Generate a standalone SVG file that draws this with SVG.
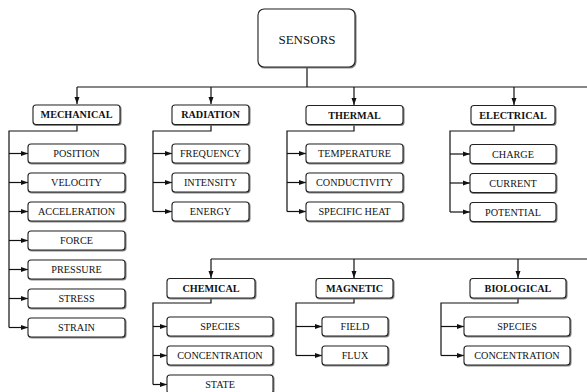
<svg xmlns="http://www.w3.org/2000/svg" width="587" height="392" viewBox="0 0 587 392">
<style>
.b{fill:#fff;stroke:#222;stroke-width:1.1;filter:url(#sh)}
text{font-size:10.2px;fill:#111;text-anchor:middle}
.c{font-weight:bold}
.s{font-size:13px}
.l{fill:none;stroke:#111;stroke-width:1.2}
</style>
<defs>
<filter id="sh" x="-10%" y="-20%" width="120%" height="150%"><feDropShadow dx="0.8" dy="0.8" stdDeviation="0.4" flood-color="#666"/></filter>
<marker id="a" markerUnits="userSpaceOnUse" markerWidth="8" markerHeight="6" refX="7" refY="3" orient="auto"><path d="M0,0.5 L7,3 L0,5.5 z" fill="#111"/></marker>
</defs>
<g id="connectors">
<path class="l" d="M307,67 V87 M77,87 H587 M211,259 H587"/>
<path class="l" d="M77,87 V104" marker-end="url(#a)"/>
<path class="l" d="M211,87 V104" marker-end="url(#a)"/>
<path class="l" d="M354,87 V105" marker-end="url(#a)"/>
<path class="l" d="M514,87 V105" marker-end="url(#a)"/>
<path class="l" d="M211,259 V278" marker-end="url(#a)"/>
<path class="l" d="M354,259 V278" marker-end="url(#a)"/>
<path class="l" d="M518,259 V278" marker-end="url(#a)"/>
<path class="l" d="M77,124 V131 H9 V327.5"/>
<path class="l" d="M9,153.5 H28" marker-end="url(#a)"/>
<path class="l" d="M9,182.5 H28" marker-end="url(#a)"/>
<path class="l" d="M9,211.5 H28" marker-end="url(#a)"/>
<path class="l" d="M9,240.5 H28" marker-end="url(#a)"/>
<path class="l" d="M9,269.5 H28" marker-end="url(#a)"/>
<path class="l" d="M9,298.5 H28" marker-end="url(#a)"/>
<path class="l" d="M9,327.5 H28" marker-end="url(#a)"/>
<path class="l" d="M211,124 V131 H153 V211.5"/>
<path class="l" d="M153,153.5 H172" marker-end="url(#a)"/>
<path class="l" d="M153,182.5 H172" marker-end="url(#a)"/>
<path class="l" d="M153,211.5 H172" marker-end="url(#a)"/>
<path class="l" d="M354,124 V131 H287 V211.5"/>
<path class="l" d="M287,153.5 H306" marker-end="url(#a)"/>
<path class="l" d="M287,182.5 H306" marker-end="url(#a)"/>
<path class="l" d="M287,211.5 H306" marker-end="url(#a)"/>
<path class="l" d="M514,124 V131 H450 V212"/>
<path class="l" d="M450,154 H470" marker-end="url(#a)"/>
<path class="l" d="M450,183 H470" marker-end="url(#a)"/>
<path class="l" d="M450,212 H470" marker-end="url(#a)"/>
<path class="l" d="M211,298 V303 H153 V384.5"/>
<path class="l" d="M153,326.5 H167" marker-end="url(#a)"/>
<path class="l" d="M153,355.5 H167" marker-end="url(#a)"/>
<path class="l" d="M153,384.5 H167" marker-end="url(#a)"/>
<path class="l" d="M354,298 V303 H296 V355.5"/>
<path class="l" d="M296,326.5 H322" marker-end="url(#a)"/>
<path class="l" d="M296,355.5 H322" marker-end="url(#a)"/>
<path class="l" d="M518,298 V303 H441 V355.5"/>
<path class="l" d="M441,326.5 H464" marker-end="url(#a)"/>
<path class="l" d="M441,355.5 H464" marker-end="url(#a)"/>
</g>
<g font-family="Liberation Serif, Times New Roman, serif">
<g id="sensors"><rect class="b" x="258" y="9" width="97" height="58" rx="6"/><text class="s" x="307" y="43.5">SENSORS</text></g>
<g id="mechanical"><rect class="b" x="33" y="105" width="87" height="19.5" rx="3"/><text class="c" x="76.5" y="118.3">MECHANICAL</text></g>
<g id="radiation"><rect class="b" x="172" y="105" width="77" height="19.5" rx="3"/><text class="c" x="210.5" y="118.3">RADIATION</text></g>
<g id="thermal"><rect class="b" x="306" y="105.5" width="97" height="19" rx="3"/><text class="c" x="354.5" y="118.5">THERMAL</text></g>
<g id="electrical"><rect class="b" x="471" y="105.5" width="84" height="19" rx="3"/><text class="c" x="513" y="118.5">ELECTRICAL</text></g>
<g id="position"><rect class="b" x="28" y="144" width="97" height="19" rx="3"/><text x="76.5" y="157">POSITION</text></g>
<g id="velocity"><rect class="b" x="28" y="173" width="97" height="19" rx="3"/><text x="76.5" y="186">VELOCITY</text></g>
<g id="acceleration"><rect class="b" x="28" y="202" width="97" height="19" rx="3"/><text x="76.5" y="215">ACCELERATION</text></g>
<g id="force"><rect class="b" x="28" y="231" width="97" height="19" rx="3"/><text x="76.5" y="244">FORCE</text></g>
<g id="pressure"><rect class="b" x="28" y="260" width="97" height="19" rx="3"/><text x="76.5" y="273">PRESSURE</text></g>
<g id="stress"><rect class="b" x="28" y="289" width="97" height="19" rx="3"/><text x="76.5" y="302">STRESS</text></g>
<g id="strain"><rect class="b" x="28" y="318" width="97" height="19" rx="3"/><text x="76.5" y="331">STRAIN</text></g>
<g id="frequency"><rect class="b" x="172" y="144" width="77" height="19" rx="3"/><text x="210.5" y="157">FREQUENCY</text></g>
<g id="intensity"><rect class="b" x="172" y="173" width="77" height="19" rx="3"/><text x="210.5" y="186">INTENSITY</text></g>
<g id="energy"><rect class="b" x="172" y="202" width="77" height="19" rx="3"/><text x="210.5" y="215">ENERGY</text></g>
<g id="temperature"><rect class="b" x="306" y="144" width="97" height="19" rx="3"/><text x="354.5" y="157">TEMPERATURE</text></g>
<g id="conductivity"><rect class="b" x="306" y="173" width="97" height="19" rx="3"/><text x="354.5" y="186">CONDUCTIVITY</text></g>
<g id="specific-heat"><rect class="b" x="306" y="202" width="97" height="19" rx="3"/><text x="354.5" y="215">SPECIFIC HEAT</text></g>
<g id="charge"><rect class="b" x="470" y="144.5" width="86" height="19" rx="3"/><text x="513" y="157.5">CHARGE</text></g>
<g id="current"><rect class="b" x="470" y="173.5" width="86" height="19" rx="3"/><text x="513" y="186.5">CURRENT</text></g>
<g id="potential"><rect class="b" x="470" y="202.5" width="86" height="19" rx="3"/><text x="513" y="215.5">POTENTIAL</text></g>
<g id="chemical"><rect class="b" x="167" y="278.5" width="88" height="19.5" rx="3"/><text class="c" x="211" y="291.8">CHEMICAL</text></g>
<g id="magnetic"><rect class="b" x="316" y="278.5" width="77" height="19.5" rx="3"/><text class="c" x="354.5" y="291.8">MAGNETIC</text></g>
<g id="biological"><rect class="b" x="470" y="278.5" width="96" height="19.5" rx="3"/><text class="c" x="518" y="291.8">BIOLOGICAL</text></g>
<g id="chem-species"><rect class="b" x="167" y="317" width="106" height="19" rx="3"/><text x="220" y="330">SPECIES</text></g>
<g id="chem-concentration"><rect class="b" x="167" y="346" width="106" height="19" rx="3"/><text x="220" y="359">CONCENTRATION</text></g>
<g id="state"><rect class="b" x="167" y="375" width="106" height="19" rx="3"/><text x="220" y="388">STATE</text></g>
<g id="field"><rect class="b" x="322" y="317" width="66" height="19" rx="3"/><text x="355" y="330">FIELD</text></g>
<g id="flux"><rect class="b" x="322" y="346" width="66" height="19" rx="3"/><text x="355" y="359">FLUX</text></g>
<g id="bio-species"><rect class="b" x="464" y="317" width="106" height="19" rx="3"/><text x="517" y="330">SPECIES</text></g>
<g id="bio-concentration"><rect class="b" x="464" y="346" width="106" height="19" rx="3"/><text x="517" y="359">CONCENTRATION</text></g>
</g>
</svg>
